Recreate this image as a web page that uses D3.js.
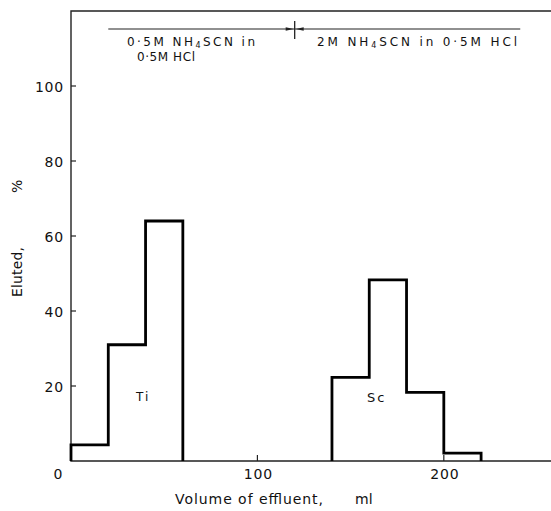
<!DOCTYPE html>
<html>
<head>
<meta charset="utf-8">
<script src="https://cdn.jsdelivr.net/npm/d3@7"></script>
<style>
  body { margin: 0; background: #fff; }
  text { font-family: "DejaVu Sans", sans-serif; fill: #111; }
</style>
</head>
<body>
<div id="chart"></div>
<script>
var width = 551, height = 511;

// elution histogram (bin edges in ml, % eluted per bin)
var tiEdges = [0, 20, 40, 60];
var tiValues = [4.3, 31, 64];
var scEdges = [140, 160, 180, 200, 220];
var scValues = [22.3, 48.3, 18.3, 2.1];

var xTicks = [100, 200];
var yTicks = [20, 40, 60, 80, 100];

// eluent change at 120 ml
var eluentSpan = [20, 241];
var eluentSwitch = 120;

var x = d3.scaleLinear().domain([0, 257.5]).range([71, 551]);
var y = d3.scaleLinear().domain([0, 120]).range([461, 11]);

var svg = d3.select("#chart").append("svg")
    .attr("width", width)
    .attr("height", height);

// frame: top + left + bottom
svg.append("path")
    .attr("d", "M" + x(257.5) + "," + y(120) + "H" + x(0) + "V" + y(0) + "H" + x(257.5))
    .attr("fill", "none")
    .attr("stroke", "#222")
    .attr("stroke-width", 1.4);

// inward ticks
svg.append("g").selectAll("line")
    .data(yTicks).enter().append("line")
    .attr("x1", x(0)).attr("x2", x(0) + 5)
    .attr("y1", d => y(d)).attr("y2", d => y(d))
    .attr("stroke", "#222").attr("stroke-width", 1.2);

svg.append("g").selectAll("line")
    .data(xTicks).enter().append("line")
    .attr("x1", d => x(d)).attr("x2", d => x(d))
    .attr("y1", y(0)).attr("y2", y(0) - 6)
    .attr("stroke", "#222").attr("stroke-width", 1.2);

// tick labels
svg.append("g").selectAll("text")
    .data(yTicks).enter().append("text")
    .attr("x", x(0) - 7)
    .attr("y", d => y(d) + 6)
    .attr("text-anchor", "end")
    .style("font-size", "14px")
    .style("letter-spacing", "0.8px")
    .text(d => d);

svg.append("g").selectAll("text")
    .data(xTicks).enter().append("text")
    .attr("x", d => x(d) + 1)
    .attr("y", 479)
    .attr("text-anchor", "middle")
    .style("font-size", "14px")
    .style("letter-spacing", "0.8px")
    .text(d => d);

svg.append("text")
    .attr("x", 58).attr("y", 479)
    .attr("text-anchor", "middle")
    .style("font-size", "14px")
    .text("0");

// axis titles
svg.append("text")
    .attr("x", 175).attr("y", 504)
    .style("font-size", "14px")
    .attr("textLength", 148).attr("lengthAdjust", "spacing")
    .text("Volume of effluent,");
svg.append("text")
    .attr("x", 355).attr("y", 504)
    .style("font-size", "14px")
    .text("ml");

svg.append("text")
    .attr("transform", "translate(22,297) rotate(-90)")
    .style("font-size", "14px")
    .attr("textLength", 50).attr("lengthAdjust", "spacing")
    .text("Eluted,");
svg.append("text")
    .attr("transform", "translate(22,193) rotate(-90)")
    .style("font-size", "14px")
    .text("%");

// step outlines
function stepPoints(edges, vals) {
    var pts = [[edges[0], 0]];
    vals.forEach(function(v, i) { pts.push([edges[i], v]); });
    pts.push([edges[edges.length - 1], vals[vals.length - 1]]);
    pts.push([edges[edges.length - 1], 0]);
    return pts;
}

var line = d3.line()
    .x(d => x(d[0]))
    .y(d => y(d[1]))
    .curve(d3.curveStepAfter);

[[tiEdges, tiValues], [scEdges, scValues]].forEach(function(s) {
    svg.append("path")
        .attr("d", line(stepPoints(s[0], s[1])))
        .attr("fill", "none")
        .attr("stroke", "#000")
        .attr("stroke-width", 2.8);
});

svg.append("text").attr("x", 136).attr("y", 401)
    .style("font-size", "12px").style("letter-spacing", "2px").text("Ti");
svg.append("text").attr("x", 367).attr("y", 402)
    .style("font-size", "13px").style("letter-spacing", "2px").text("Sc");

// eluent annotation
var ay = 29;
svg.append("line")
    .attr("x1", x(eluentSpan[0])).attr("x2", x(eluentSpan[1]))
    .attr("y1", ay).attr("y2", ay)
    .attr("stroke", "#222").attr("stroke-width", 1.2);
svg.append("line")
    .attr("x1", x(eluentSwitch)).attr("x2", x(eluentSwitch))
    .attr("y1", ay - 8).attr("y2", ay + 10)
    .attr("stroke", "#222").attr("stroke-width", 1.3);
svg.append("path")
    .attr("d", "M" + (x(eluentSwitch) - 1) + "," + ay + "l-8,-1.8v3.6z M" + (x(eluentSwitch) + 1) + "," + ay + "l8,-1.8v3.6z")
    .attr("fill", "#222");

function label(tx, ty, len, parts) {
    var t = svg.append("text").attr("x", tx).attr("y", ty)
        .style("font-size", "12px")
        .attr("textLength", len).attr("lengthAdjust", "spacing");
    parts.forEach(function(p) {
        var ts = t.append("tspan").text(p[0]);
        if (p[1]) ts.style("font-size", "8px").attr("dy", 2);
        else if (p[2]) ts.attr("dy", -2);
    });
}
label(127, 46, 128, [["0·5M NH"], ["4", true], ["SCN in", false, true]]);
label(137, 61, 58, [["0·5M HCl"]]);
label(317, 46, 200, [["2M NH"], ["4", true], ["SCN in 0·5M HCl", false, true]]);
</script>
</body>
</html>
